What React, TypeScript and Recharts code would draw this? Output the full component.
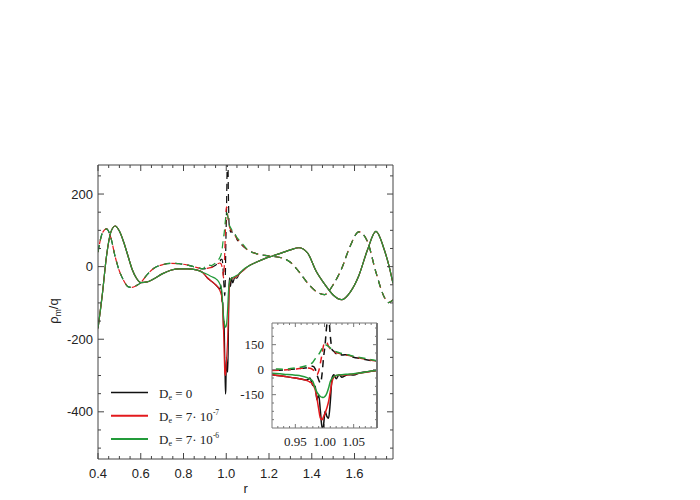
import React from "react";
import { LineChart, Line, XAxis, YAxis } from "recharts";

// radius grid, split so the region around r = 1 can differ per run
const rLeft = [0.4, 0.42, 0.44, 0.46, 0.48, 0.5, 0.52, 0.54, 0.56, 0.58, 0.6, 0.63, 0.66, 0.7, 0.74, 0.78, 0.82, 0.86, 0.89];
const solidLeft = [-170, -78, 30, 95, 112, 98, 68, 30, -8, -32, -44, -42, -34, -20, -10, -6, -6, -9, -16];
const dashLeft = [40, 92, 104, 80, 28, -12, -38, -55, -57, -52, -44, -22, -5, 5, 9, 8, 4, -2, -6];

const rCore = [0.91, 0.93, 0.95, 0.96, 0.97, 0.975, 0.98, 0.984, 0.987, 0.99, 0.993, 0.996, 0.998, 1.001, 1.004, 1.007, 1.01, 1.013, 1.016, 1.02, 1.025, 1.03, 1.04, 1.05, 1.06, 1.08];
const solidBlackCore = [-30, -40, -50, -56, -62, -50, -95, -100, -180, -150, -250, -351, -340, -250, -280, -291, -190, -50, -31, -55, -30, -45, -30, -32, -20, -10];
const solidRedCore = [-30, -40, -50, -56, -66, -74, -88, -120, -171, -235, -291, -300, -285, -261, -230, -191, -130, -71, -45, -35, -33, -32, -30, -26, -21, -10];
const solidGreenCore = [-21, -27, -33, -38, -48, -56, -70, -111, -135, -150, -161, -166, -167, -160, -141, -110, -71, -52, -41, -35, -32, -30, -27, -24, -20, -8];
const dashBlackCore = [-5, -2, 4, 8, 12, 20, 20, 5, -30, -60, -80, -20, 60, 150, 270, 320, 200, 120, 110, 95, 100, 88, 90, 75, 68, 55];
const dashRedCore = [-5, -2, 4, 8, 10, 8, 0, -15, -31, -10, 40, 99, 140, 165, 162, 140, 125, 115, 108, 102, 98, 93, 86, 78, 70, 57];
const dashGreenCore = [5, 3, 10, 16, 25, 32, 45, 65, 79, 92, 109, 128, 140, 149, 146, 139, 130, 120, 112, 108, 102, 97, 89, 80, 73, 60];

const rRight = [1.1, 1.14, 1.18, 1.22, 1.26, 1.3, 1.34, 1.38, 1.42, 1.46, 1.5, 1.54, 1.58, 1.62, 1.66, 1.7, 1.74, 1.76, 1.78];
const solidRight = [0, 12, 22, 30, 38, 46, 52, 38, -12, -48, -78, -91, -70, -25, 45, 97, 45, 5, -46];
const dashRight = [46, 36, 31, 28, 24, 12, -14, -45, -68, -77, -50, -5, 57, 96, 70, -15, -85, -99, -92];

const mainXMajor = [0.4, 0.6, 0.8, 1.0, 1.2, 1.4, 1.6];
const mainXLabels = ["0.4", "0.6", "0.8", "1.0", "1.2", "1.4", "1.6"];
const mainYMajor = [-400, -200, 0, 200];
const mainYLabels = ["-400", "-200", "0", "200"];
const insetXMajor = [0.95, 1.0, 1.05];
const insetXLabels = ["0.95", "1.00", "1.05"];
const insetYMajor = [-150, 0, 150];
const insetYLabels = ["-150", "0", "150"];

const rows = [
  ...rLeft.map((r, i) => ({ r, sb: solidLeft[i], sr: solidLeft[i], sg: solidLeft[i], db: dashLeft[i], dr: dashLeft[i], dg: dashLeft[i] })),
  ...rCore.map((r, i) => ({
    r,
    sb: solidBlackCore[i],
    sr: solidRedCore[i],
    sg: solidGreenCore[i],
    db: dashBlackCore[i],
    dr: dashRedCore[i],
    dg: dashGreenCore[i],
  })),
  ...rRight.map((r, i) => ({ r, sb: solidRight[i], sr: solidRight[i], sg: solidRight[i], db: dashRight[i], dr: dashRight[i], dg: dashRight[i] })),
];

const BLACK = "#111111";
const RED = "#e3191d";
const GREEN = "#239b3a";
const SANS = "'Liberation Sans', Arial, sans-serif";
const SERIF = "'Liberation Serif', 'Times New Roman', serif";

function steps(from: number, to: number, step: number) {
  const out: number[] = [];
  for (let i = 0; from + i * step <= to + 1e-9; i++) out.push(+(from + i * step).toFixed(4));
  return out;
}

interface TickOpts {
  side: "bottom" | "left" | "top" | "right";
  majors: number[];
  labels?: string[];
  major: number;
  minor: number;
  offset?: number;
  font?: string;
  size?: number;
  color: string;
}

function makeTick(o: TickOpts) {
  return (props: any) => {
    const { x, y, payload } = props;
    const idx = o.majors.findIndex((m) => Math.abs(m - payload.value) < 1e-6);
    const len = idx >= 0 ? o.major : o.minor;
    let x2 = x;
    let y2 = y;
    if (o.side === "bottom") y2 = y - len;
    if (o.side === "top") y2 = y + len;
    if (o.side === "left") x2 = x + len;
    if (o.side === "right") x2 = x - len;
    let label = null;
    if (idx >= 0 && o.labels) {
      const common = { fontFamily: o.font, fontSize: o.size, fill: "#222" };
      if (o.side === "bottom") {
        label = (
          <text x={x} y={y + (o.offset || 0)} textAnchor="middle" {...common}>
            {o.labels[idx]}
          </text>
        );
      } else {
        label = (
          <text x={x - (o.offset || 0)} y={y} dy="0.36em" textAnchor="end" {...common}>
            {o.labels[idx]}
          </text>
        );
      }
    }
    return (
      <g>
        <line x1={x} y1={y} x2={x2} y2={y2} stroke={o.color} strokeWidth={1} />
        {label}
      </g>
    );
  };
}

function seriesLines(xId: string, yId: string, w: number) {
  const common = { xAxisId: xId, yAxisId: yId, type: "monotone" as const, dot: false, isAnimationActive: false, strokeWidth: w };
  return [
    <Line key="db" dataKey="db" stroke={BLACK} strokeDasharray="7 5" {...common} />,
    <Line key="dr" dataKey="dr" stroke={RED} strokeDasharray="7 5" strokeDashoffset={4} {...common} />,
    <Line key="dg" dataKey="dg" stroke={GREEN} strokeDasharray="7 5" {...common} />,
    <Line key="sb" dataKey="sb" stroke={BLACK} {...common} />,
    <Line key="sr" dataKey="sr" stroke={RED} {...common} />,
    <Line key="sg" dataKey="sg" stroke={GREEN} {...common} />,
  ];
}

// four framed axes; labels only on bottom/left, ticks point inward on every side
function frameAxes(
  xDomain: [number, number],
  yDomain: [number, number],
  xTicks: number[],
  yTicks: number[],
  xMajor: number[],
  yMajor: number[],
  xLabels: string[],
  yLabels: string[],
  opts: { frame: string; major: number; minor: number; xOff: number; yOff: number; font: string; size: number; rightWidth: number }
) {
  const shared = { allowDataOverflow: true, interval: 0 as const, tickSize: 0, tickMargin: 0, tickLine: false, type: "number" as const };
  const t = { major: opts.major, minor: opts.minor, color: opts.frame, font: opts.font, size: opts.size };
  return [
    <XAxis key="xb" xAxisId="b" dataKey="r" domain={xDomain} ticks={xTicks} height={1} axisLine={{ stroke: opts.frame }} {...shared}
      tick={makeTick({ side: "bottom", majors: xMajor, labels: xLabels, offset: opts.xOff, ...t })} />,
    <XAxis key="xt" xAxisId="t" orientation="top" dataKey="r" domain={xDomain} ticks={xTicks} height={1} axisLine={{ stroke: opts.frame }} {...shared}
      tick={makeTick({ side: "top", majors: xMajor, ...t })} />,
    <YAxis key="yl" yAxisId="l" domain={yDomain} ticks={yTicks} width={1} axisLine={{ stroke: opts.frame }} {...shared}
      tick={makeTick({ side: "left", majors: yMajor, labels: yLabels, offset: opts.yOff, ...t })} />,
    <YAxis key="yr" yAxisId="r" orientation="right" domain={yDomain} ticks={yTicks} width={1} axisLine={{ stroke: opts.frame, strokeWidth: opts.rightWidth }} {...shared}
      tick={makeTick({ side: "right", majors: yMajor, ...t })} />,
  ];
}

function MainChart() {
  return (
    <LineChart width={700} height={500} data={rows} margin={{ top: 164, right: 306, bottom: 40, left: 97 }}>
      {frameAxes([0.4, 1.78], [-530, 280], steps(0.4, 1.75, 0.05), steps(-500, 250, 50), mainXMajor, mainYMajor, mainXLabels, mainYLabels, {
        frame: "#444",
        major: 6,
        minor: 3,
        xOff: 18.5,
        yOff: 5,
        font: SANS,
        size: 13,
        rightWidth: 1,
      })}
      {seriesLines("b", "l", 1.2)}
      <Line xAxisId="t" yAxisId="r" dataKey="sg" stroke="none" dot={false} isAnimationActive={false} legendType="none" />
    </LineChart>
  );
}

function InsetChart() {
  return (
    <LineChart width={150} height={135} data={rows} margin={{ top: 4, right: 4, bottom: 24, left: 39 }}>
      {frameAxes([0.91, 1.09], [-350, 280], steps(0.92, 1.08, 0.01), steps(-300, 250, 50), insetXMajor, insetYMajor, insetXLabels, insetYLabels, {
        frame: "#777",
        major: 4,
        minor: 2,
        xOff: 17.5,
        yOff: 8,
        font: SERIF,
        size: 13,
        rightWidth: 2,
      })}
      {seriesLines("b", "l", 1.5)}
      <Line xAxisId="t" yAxisId="r" dataKey="sg" stroke="none" dot={false} isAnimationActive={false} legendType="none" />
    </LineChart>
  );
}

const legendItems = [
  { color: BLACK, value: "0", exp: "" },
  { color: RED, value: "7· 10", exp: "-7" },
  { color: GREEN, value: "7· 10", exp: "-6" },
];

function Overlay() {
  return (
    <svg width={700} height={500} style={{ position: "absolute", left: 0, top: 0, pointerEvents: "none" }}>
      {legendItems.map((it, i) => {
        const y = 392.5 + i * 23.2;
        return (
          <g key={i}>
            <line x1={111} x2={148} y1={y} y2={y} stroke={it.color} strokeWidth={i === 0 ? 1.3 : 2} />
            <text x={159} y={y + 5} fontFamily={SERIF} fontSize={13} fill="#222">
              D
              <tspan fontSize={8} dy={2.5}>
                e
              </tspan>
              <tspan dy={-2.5}>{" = " + it.value}</tspan>
              {it.exp && (
                <tspan fontSize={7.5} dy={-5.5}>
                  {it.exp}
                </tspan>
              )}
            </text>
          </g>
        );
      })}
      <text x={245.7} y={493} textAnchor="middle" fontFamily={SANS} fontSize={13} fill="#222">
        r
      </text>
      <text x={58} y={311} transform="rotate(-90 58 311)" textAnchor="middle" fontFamily={SANS} fontSize={13} fill="#222">
        ρ
        <tspan fontSize={8.5} dy={3}>
          m
        </tspan>
        <tspan dy={-3}>/q</tspan>
      </text>
    </svg>
  );
}

export default function App() {
  return (
    <div style={{ position: "absolute", left: 0, top: 0, width: 700, height: 500, background: "#fff" }}>
      <div style={{ position: "absolute", left: 0, top: 0 }}>
        <MainChart />
      </div>
      <div style={{ position: "absolute", left: 232, top: 318 }}>
        <InsetChart />
      </div>
      <Overlay />
    </div>
  );
}
